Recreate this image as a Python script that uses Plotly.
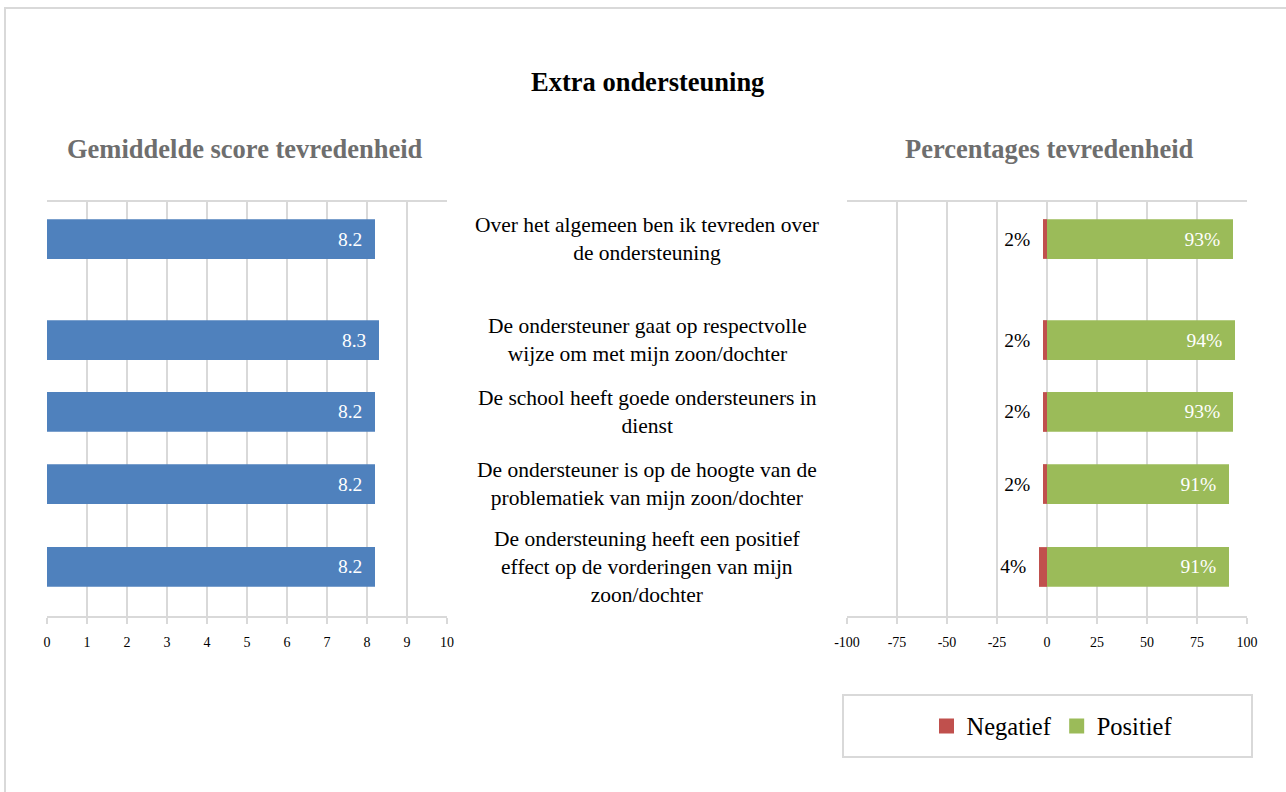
import plotly.graph_objects as go

# ---------------- data ----------------
categories = [
    "Over het algemeen ben ik tevreden over<br>de ondersteuning",
    "De ondersteuner gaat op respectvolle<br>wijze om met mijn zoon/dochter",
    "De school heeft goede ondersteuners in<br>dienst",
    "De ondersteuner is op de hoogte van de<br>problematiek van mijn zoon/dochter",
    "De ondersteuning heeft een positief<br>effect op de vorderingen van mijn<br>zoon/dochter",
]
mean_scores = [8.2, 8.3, 8.2, 8.2, 8.2]
negatief = [-2, -2, -2, -2, -4]
positief = [93, 94, 93, 91, 91]
left_ticks = list(range(0, 11))
right_ticks = [-100, -75, -50, -25, 0, 25, 50, 75, 100]

# ---------------- layout helpers ----------------
W, H = 1286, 792
row_pos = [0.447, 1.667, 2.536, 3.406, 4.408]   # row centres (layout units)
FONT = "Liberation Serif, Times New Roman, serif"
GRID = "#d9d9d9"
BLUE, RED, GREEN = "#4f81bd", "#c0504d", "#9bbb59"


def px_x(x):
    return x / W


def px_y(y):
    return 1 - y / H


NB = "\u00a0"

fig = go.Figure()

fig.add_trace(go.Bar(
    x=mean_scores, y=row_pos, orientation="h", width=0.48,
    marker=dict(color=BLUE, line=dict(width=0)),
    text=[f"{v:.1f}{NB}{NB}" for v in mean_scores],
    textposition="inside", insidetextanchor="end",
    textfont=dict(family=FONT, size=19.5, color="white"),
    xaxis="x", yaxis="y", showlegend=False, hoverinfo="skip",
))

fig.add_trace(go.Bar(
    name="Negatief", x=negatief, y=row_pos, orientation="h", width=0.48,
    marker=dict(color=RED, line=dict(width=0)),
    text=[f"{abs(v)}%{NB}{NB}" for v in negatief],
    textposition="outside", cliponaxis=False,
    textfont=dict(family=FONT, size=19.5, color="black"),
    xaxis="x2", yaxis="y2", hoverinfo="skip", showlegend=False,
))

fig.add_trace(go.Bar(
    name="Positief", x=positief, y=row_pos, orientation="h", width=0.48,
    marker=dict(color=GREEN, line=dict(width=0)),
    text=[f"{v}%{NB}{NB}" for v in positief],
    textposition="inside", insidetextanchor="end",
    textfont=dict(family=FONT, size=19.5, color="white"),
    xaxis="x2", yaxis="y2", hoverinfo="skip", showlegend=False,
))

# legend entries (square swatches like the reference)
for name, col in (("Negatief", RED), ("Positief", GREEN)):
    fig.add_trace(go.Scatter(
        name=name, x=[None], y=[None], mode="markers",
        marker=dict(symbol="square", size=15, color=col, line=dict(width=0)),
        xaxis="x2", yaxis="y2", hoverinfo="skip", showlegend=True,
    ))

y_dom = [px_y(616), px_y(202)]
axis_common = dict(
    showgrid=True, gridcolor=GRID, gridwidth=1.5,
    zeroline=False, showline=True, linecolor=GRID, linewidth=2, mirror=True,
    ticks="outside", ticklen=6, tickcolor=GRID, tickwidth=1.5,
    ticklabelstandoff=6,
    tickfont=dict(family=FONT, size=14, color="black"),
    fixedrange=True, automargin=False,
)
yaxis_common = dict(range=[5, 0], showgrid=False, zeroline=False, showline=False,
                    showticklabels=False, ticks="", fixedrange=True, domain=y_dom,
                    automargin=False)

fig.update_layout(
    template="none",
    width=W, height=H, autosize=False,
    margin=dict(l=0, r=0, t=0, b=0, pad=0, autoexpand=False),
    paper_bgcolor="white", plot_bgcolor="white",
    barmode="overlay",
    font=dict(family=FONT, color="black"),
    xaxis=dict(domain=[px_x(47), px_x(447)], range=[0, 10], tickvals=left_ticks,
               anchor="y", **axis_common),
    yaxis=dict(anchor="x", **yaxis_common),
    xaxis2=dict(domain=[px_x(847), px_x(1247)], range=[-100, 100], tickvals=right_ticks,
                ticktext=[str(t) for t in right_ticks], anchor="y2", **axis_common),
    yaxis2=dict(anchor="x2", **yaxis_common),
    legend=dict(orientation="h", x=px_x(1052), y=px_y(726), xanchor="center", yanchor="middle",
                font=dict(family=FONT, size=24.5, color="black"), bgcolor="rgba(0,0,0,0)",
                borderwidth=0, itemsizing="trace", traceorder="normal"),
    showlegend=True,
)

annotations = [
    dict(text="<b>Extra ondersteuning</b>", x=px_x(647), y=px_y(82), xref="paper", yref="paper",
         showarrow=False, font=dict(family=FONT, size=26.5, color="black"), xanchor="center", yanchor="middle"),
    dict(text="<b>Gemiddelde score tevredenheid</b>", x=px_x(245), y=px_y(149), xref="paper", yref="paper",
         showarrow=False, font=dict(family=FONT, size=26.5, color="#6e6e6e"), xanchor="center", yanchor="middle"),
    dict(text="<b>Percentages tevredenheid</b>", x=px_x(1049), y=px_y(149), xref="paper", yref="paper",
         showarrow=False, font=dict(family=FONT, size=26.5, color="#6e6e6e"), xanchor="center", yanchor="middle"),
]
for cat, yp in zip(categories, row_pos):
    annotations.append(dict(text=cat, x=px_x(647), y=yp, xref="paper", yref="y",
                            showarrow=False, align="center", xanchor="center", yanchor="middle",
                            font=dict(family=FONT, size=21.5, color="black")))
fig.update_layout(annotations=annotations)

shapes = [
    # outer chart frame
    dict(type="rect", xref="paper", yref="paper", x0=px_x(5), x1=px_x(1300), y0=px_y(810), y1=px_y(8),
         line=dict(color=GRID, width=2), fillcolor="rgba(0,0,0,0)", layer="below"),
    # legend box
    dict(type="rect", xref="paper", yref="paper", x0=px_x(843), x1=px_x(1252), y0=px_y(757), y1=px_y(695),
         line=dict(color=GRID, width=2), fillcolor="rgba(0,0,0,0)", layer="below"),
]
fig.update_layout(shapes=shapes)

fig.write_html(
    "out.html",
    config={"displayModeBar": False, "staticPlot": False},
    post_script="document.body.style.margin='0';document.body.style.overflow='hidden';",
)
